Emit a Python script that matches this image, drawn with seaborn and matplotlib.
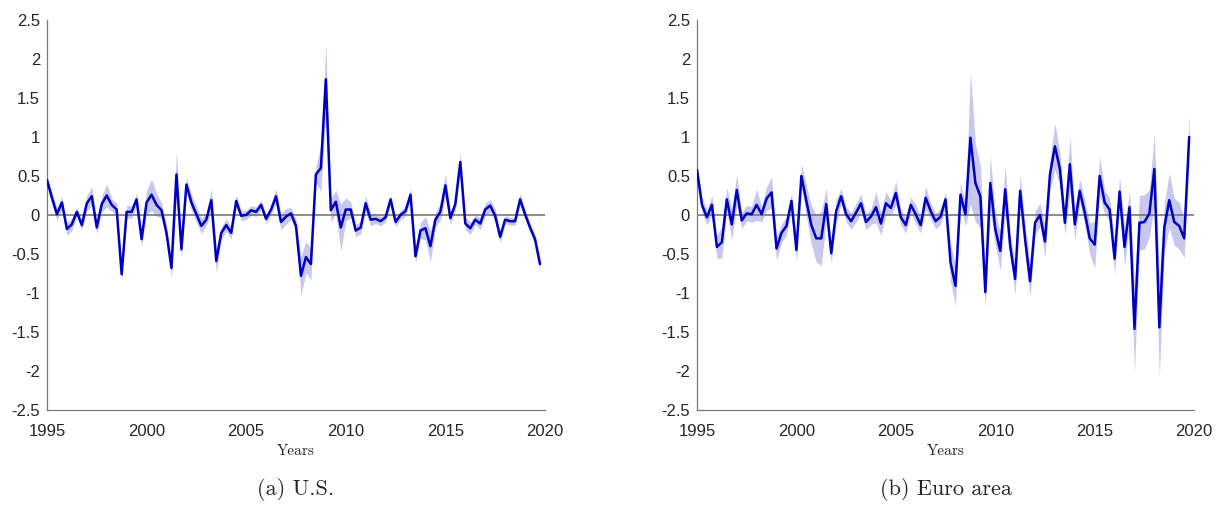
import numpy as np
import pandas as pd
import matplotlib
matplotlib.use('Agg')
import matplotlib.pyplot as plt
import seaborn as sns

# quarterly estimates 1995Q1 - 2019Q4
us_values = [
  0.45, 0.22, 0.01, 0.16, -0.18, -0.12, 0.04, -0.13, 0.15, 0.24,
  -0.16, 0.14, 0.25, 0.13, 0.07, -0.76, 0.04, 0.04, 0.20, -0.31,
  0.16, 0.26, 0.13, 0.06, -0.23, -0.68, 0.52, -0.44, 0.39, 0.16,
  0.01, -0.14, -0.06, 0.19, -0.59, -0.23, -0.13, -0.23, 0.18, -0.01,
  0.00, 0.06, 0.04, 0.13, -0.05, 0.07, 0.24, -0.09, -0.02, 0.02,
  -0.14, -0.78, -0.54, -0.63, 0.52, 0.60, 1.74, 0.06, 0.17, -0.16,
  0.07, 0.07, -0.20, -0.16, 0.15, -0.06, -0.05, -0.08, -0.03, 0.20,
  -0.09, 0.00, 0.05, 0.26, -0.53, -0.20, -0.17, -0.40, -0.06, 0.04,
  0.38, -0.04, 0.14, 0.68, -0.11, -0.17, -0.06, -0.11, 0.07, 0.12,
  -0.01, -0.28, -0.06, -0.08, -0.08, 0.20, 0.01, -0.16, -0.31, -0.63,
]
us_band = [
  0.05, 0.08, 0.08, 0.08, 0.08, 0.08, 0.06, 0.06, 0.10, 0.12,
  0.08, 0.10, 0.15, 0.08, 0.08, 0.10, 0.08, 0.08, 0.08, 0.10,
  0.15, 0.20, 0.15, 0.10, 0.10, 0.12, 0.30, 0.10, 0.10, 0.10,
  0.10, 0.10, 0.08, 0.15, 0.15, 0.08, 0.08, 0.08, 0.08, 0.06,
  0.06, 0.06, 0.06, 0.06, 0.06, 0.06, 0.10, 0.10, 0.10, 0.08,
  0.08, 0.25, 0.20, 0.20, 0.10, 0.30, 0.45, 0.15, 0.15, 0.30,
  0.15, 0.10, 0.08, 0.08, 0.10, 0.08, 0.06, 0.06, 0.06, 0.06,
  0.06, 0.06, 0.06, 0.08, 0.08, 0.10, 0.15, 0.20, 0.10, 0.10,
  0.15, 0.08, 0.08, 0.12, 0.08, 0.08, 0.06, 0.08, 0.08, 0.08,
  0.08, 0.08, 0.05, 0.05, 0.05, 0.08, 0.06, 0.06, 0.06, 0.08,
]
ea_values = [
  0.58, 0.13, -0.03, 0.13, -0.41, -0.35, 0.20, -0.12, 0.32, -0.07,
  0.02, 0.01, 0.13, 0.01, 0.21, 0.29, -0.43, -0.23, -0.14, 0.18,
  -0.45, 0.50, 0.18, -0.13, -0.30, -0.30, 0.14, -0.49, 0.05, 0.24,
  0.01, -0.08, 0.03, 0.15, -0.09, -0.02, 0.10, -0.11, 0.15, 0.09,
  0.28, -0.03, -0.13, 0.13, 0.01, -0.13, 0.22, 0.05, -0.08, -0.02,
  0.20, -0.61, -0.91, 0.26, 0.01, 0.99, 0.41, 0.24, -0.99, 0.41,
  -0.18, -0.46, 0.33, -0.40, -0.82, 0.31, -0.31, -0.85, -0.10, 0.00,
  -0.34, 0.52, 0.88, 0.59, -0.10, 0.65, -0.12, 0.31, 0.03, -0.30,
  -0.38, 0.50, 0.16, 0.07, -0.56, 0.30, -0.41, 0.10, -1.46, -0.10,
  -0.09, 0.02, 0.59, -1.44, -0.16, 0.19, -0.09, -0.14, -0.30, 1.00,
]
ea_band = [
  0.05, 0.10, 0.10, 0.12, 0.15, 0.20, 0.15, 0.20, 0.20, 0.10,
  0.10, 0.10, 0.20, 0.10, 0.15, 0.20, 0.15, 0.12, 0.12, 0.10,
  0.15, 0.15, 0.20, 0.25, 0.30, 0.35, 0.20, 0.12, 0.15, 0.10,
  0.10, 0.10, 0.12, 0.12, 0.10, 0.10, 0.20, 0.15, 0.15, 0.10,
  0.15, 0.10, 0.10, 0.10, 0.12, 0.10, 0.15, 0.10, 0.10, 0.10,
  0.10, 0.25, 0.25, 0.15, 0.15, 0.85, 0.50, 0.40, 0.20, 0.35,
  0.20, 0.25, 0.30, 0.15, 0.20, 0.20, 0.20, 0.20, 0.15, 0.15,
  0.20, 0.20, 0.30, 0.20, 0.15, 0.35, 0.20, 0.15, 0.15, 0.20,
  0.30, 0.25, 0.15, 0.15, 0.20, 0.20, 0.25, 0.20, 0.55, 0.35,
  0.35, 0.30, 0.45, 0.65, 0.30, 0.35, 0.30, 0.30, 0.25, 0.30,
]
panel_titles = ['(a) U.S.', '(b) Euro area']
year_ticks = [1995, 2000, 2005, 2010, 2015, 2020]
value_ticks = [-2.5, -2, -1.5, -1, -0.5, 0, 0.5, 1, 1.5, 2, 2.5]

sns.set_style('white')
plt.rcParams['font.family'] = ['Liberation Sans', 'DejaVu Sans']
plt.rcParams['axes.unicode_minus'] = False

LINE_COLOR = '#0000C0'
BAND_COLOR = '#C8C8EE'
AXIS_COLOR = '#7a7a7a'

fig = plt.figure(figsize=(12.23, 5.11), dpi=100)
ax_us = fig.add_axes([0.0384, 0.1977, 0.4072, 0.7632])
ax_ea = fig.add_axes([0.5699, 0.1977, 0.4065, 0.7632])

dates = 1995 + np.arange(len(us_values)) / 4.0

for ax, vals, band, title in [(ax_us, us_values, us_band, panel_titles[0]),
                              (ax_ea, ea_values, ea_band, panel_titles[1])]:
  df = pd.DataFrame({'date': dates, 'value': vals, 'band': band})
  ax.fill_between(df['date'], df['value'] - df['band'], df['value'] + df['band'],
                  color=BAND_COLOR, linewidth=0, zorder=1)
  ax.axhline(0, color='#6e6e6e', linewidth=1.1, zorder=2)
  sns.lineplot(data=df, x='date', y='value', ax=ax, color=LINE_COLOR,
               linewidth=1.8, zorder=3)
  ax.set_xlim(1995, 2020)
  ax.set_ylim(-2.5, 2.5)
  ax.set_xticks(year_ticks)
  ax.set_yticks(value_ticks)
  ax.set_yticklabels(['%g' % v for v in value_ticks])
  ax.tick_params(direction='in', length=4, width=0.8, color=AXIS_COLOR,
                 labelsize=12, labelcolor='#262626')
  ax.tick_params(axis='x', pad=10)
  ax.tick_params(axis='y', pad=5)
  for side in ['top', 'right']:
    ax.spines[side].set_visible(False)
  for side in ['left', 'bottom']:
    ax.spines[side].set_color(AXIS_COLOR)
    ax.spines[side].set_linewidth(0.9)
  ax.set_xlabel('Years', family='cmr10', fontsize=11, color='#262626', labelpad=4)
  ax.set_ylabel('')
  ax.text(0.5, -0.205, title, transform=ax.transAxes, ha='center', va='center',
          family='cmr10', fontsize=16)

fig.savefig('out.png', dpi=100)
